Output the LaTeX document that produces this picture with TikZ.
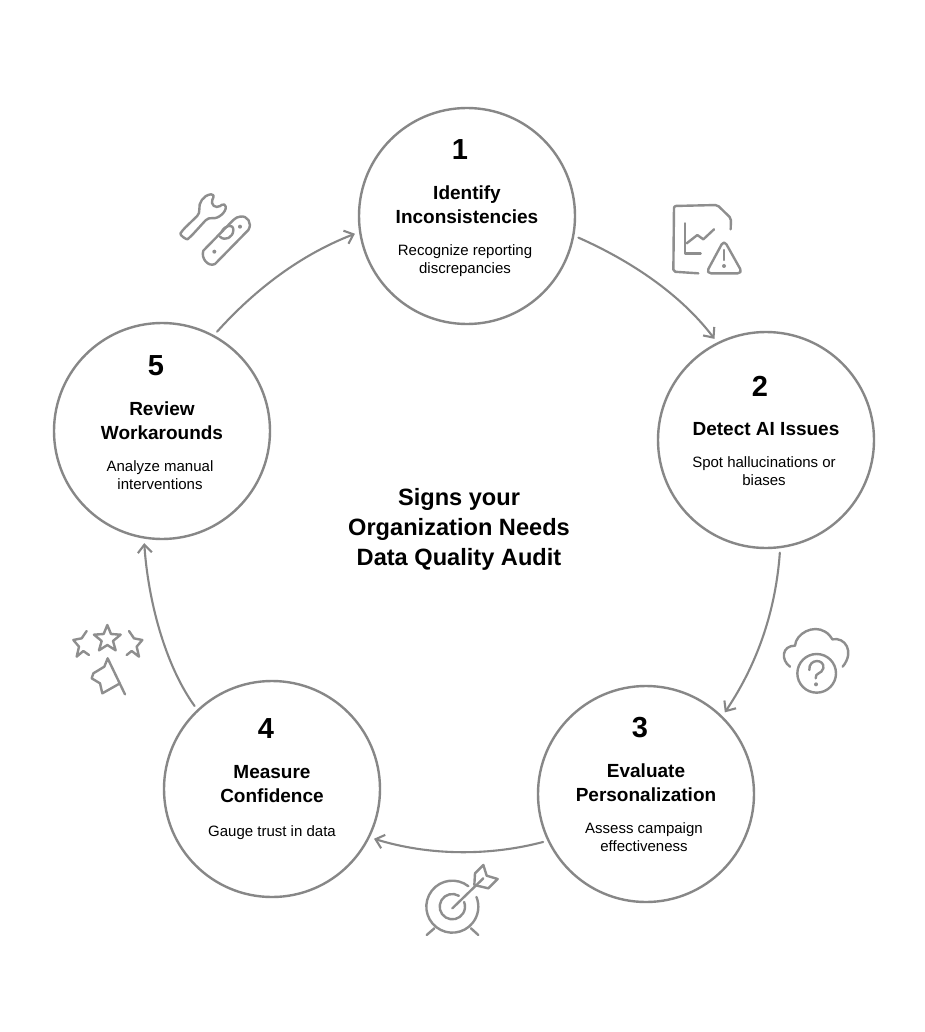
\documentclass[tikz,border=0pt]{standalone}
\usepackage{fontspec}
\setmainfont{Liberation Sans}
\usetikzlibrary{arrows.meta}
\definecolor{ink}{HTML}{878787}
\definecolor{iconink}{HTML}{8E8E8E}
\tikzset{
  stage/.style={circle,draw=ink,line width=2.4pt,minimum size=216pt,inner sep=0pt,outer sep=5.5pt,fill=white},
  num/.style={font=\fontsize{29}{32}\selectfont\bfseries,text=black,inner sep=0pt},
  ttl/.style={font=\fontsize{19}{24}\selectfont\bfseries,text=black,align=center,inner sep=0pt},
  dsc/.style={font=\fontsize{15}{18}\selectfont,text=black,align=center,inner sep=0pt},
  big/.style={font=\fontsize{23.6}{30}\selectfont\bfseries,text=black,align=center,inner sep=0pt},
  link/.style={draw=ink,line width=2.1pt,line cap=round,-{Straight Barb[length=8pt,width=14pt,line width=2.1pt]}},
  icon/.style={shift={(#1)},x=0.33333pt,y=-0.33333pt,draw=iconink,line width=2.4pt,line cap=round,line join=round},
  dot/.style={fill=iconink,draw=none}
}
\begin{document}
\begin{tikzpicture}[x=1pt,y=-1pt]
\useasboundingbox (0,0) rectangle (924,1032);
\fill[white] (0,0) rectangle (924,1032);

\node[stage] (c1) at (467,216) {};
\node[stage] (c2) at (766,440) {};
\node[stage] (c3) at (646,794) {};
\node[stage] (c4) at (272,789) {};
\node[stage] (c5) at (162,431) {};

\draw[link] (c1.-11) .. controls (640,265) and (685,300) .. (c2.117);
\draw[link] (c2.-83) .. controls (775,620) and (752,672) .. (c3.46);
\draw[link] (c3.205) .. controls (490,856) and (430,856) .. (c4.-26);
\draw[link] (c4.133) .. controls (165,665) and (148,600) .. (c5.-99);
\draw[link] (c5.61) .. controls (250,295) and (295,257) .. (c1.189);

\node[num] (n1) at (460,150) {1};
\node[ttl] (t1) at (467,205) {Identify\\Inconsistencies};
\node[dsc] (d1) at (465,261) {Recognize reporting\\discrepancies};
\node[num] (n2) at (760,386) {2};
\node[ttl] (t2) at (766,429) {Detect AI Issues};
\node[dsc] (d2) at (764,471) {Spot hallucinations or\\biases};
\node[num] (n3) at (640,728) {3};
\node[ttl] (t3) at (646,783) {Evaluate\\Personalization};
\node[dsc] (d3) at (644,837) {Assess campaign\\effectiveness};
\node[num] (n4) at (266,729) {4};
\node[ttl] (t4) at (272,784) {Measure\\Confidence};
\node[dsc] (d4) at (272,833) {Gauge trust in data};
\node[num] (n5) at (156,366) {5};
\node[ttl] (t5) at (162,421) {Review\\Workarounds};
\node[dsc] (d5) at (160,475) {Analyze manual\\interventions};
\node[big] (title) at (459,529) {Signs your\\Organization Needs\\Data Quality Audit};

% document with warning
\begin{scope}[icon={660,190}]
  \draw[rounded corners=2pt] (212,118) -- (213,85) -- (172,45) -- (42,48) -- (40,245) -- (115,250);
  \draw (75,100) -- (75,190) -- (122,190);
  \draw (80,160) -- (112,135) -- (130,148) -- (162,118);
  \draw[rounded corners=5pt] (192,150) -- (248,250) -- (138,250) -- cycle;
  \draw (192,180) -- (192,210);
  \fill[dot] (192,228) circle[radius=6];
\end{scope}
% tools
\begin{scope}[icon={170,180}]
  \draw[rounded corners=4pt] (90,100) .. controls (85,70) and (100,45) .. (135,42) -- (122,70) -- (140,85) -- (165,68) .. controls (170,95) and (145,118) .. (115,112) -- (62,170) .. controls (50,180) and (28,165) .. (38,150) -- cycle;
  \draw (190,120) -- (100,212) .. controls (92,235) and (115,262) .. (135,252) -- (235,150) .. controls (248,130) and (232,105) .. (210,110) .. controls (203,110) and (197,114) .. (190,120);
  \draw (155,155) .. controls (165,135) and (190,130) .. (190,150) .. controls (190,172) and (165,185) .. (150,170);
  \fill[dot] (210,140) circle[radius=6];
  \fill[dot] (133,215) circle[radius=6];
\end{scope}
% cloud
\begin{scope}[icon={770,615}]
  \draw (60,155) .. controls (32,135) and (35,92) .. (75,92) .. controls (78,55) and (130,28) .. (165,50) .. controls (175,55) and (182,65) .. (187,73) .. controls (225,65) and (255,110) .. (218,155);
  \draw (140,175) circle[radius=58];
  \draw (118,165) .. controls (115,130) and (165,130) .. (160,160) .. controls (155,178) and (135,172) .. (137,190);
  \fill[dot] (138,208) circle[radius=6];
\end{scope}
% target
\begin{scope}[icon={415,855}]
  \draw (160,93.5) arc[start angle=-52,end angle=-382,radius=78];
  \draw (131.6,122.4) arc[start angle=-59,end angle=-382,radius=38];
  \draw (35,240) -- (58,220);
  \draw (190,240) -- (168,220);
  \draw (112,160) -- (205,70);
  \draw (180,55) -- (205,30) -- (215,62) -- (248,72) -- (220,100) -- (178,90) -- cycle;
\end{scope}
% stars and pennant
\begin{scope}[icon={65,615}]
  \draw (127,30) -- (138,57) -- (167,59) -- (144,78) -- (152,106) -- (127,90) -- (102,106) -- (110,78) -- (87,59) -- (116,57) -- cycle;
  \draw (72,120) -- (55,108) -- (35,125) -- (42,95) -- (25,75) -- (50,70) -- (65,48);
  \draw (185,120) -- (200,108) -- (222,125) -- (215,95) -- (232,75) -- (207,70) -- (192,48);
  \draw (180,238) -- (128,130) -- (118,155) -- (85,175) -- (80,190) -- (105,205) -- (112,235) -- (165,205);
\end{scope}
\end{tikzpicture}
\end{document}
